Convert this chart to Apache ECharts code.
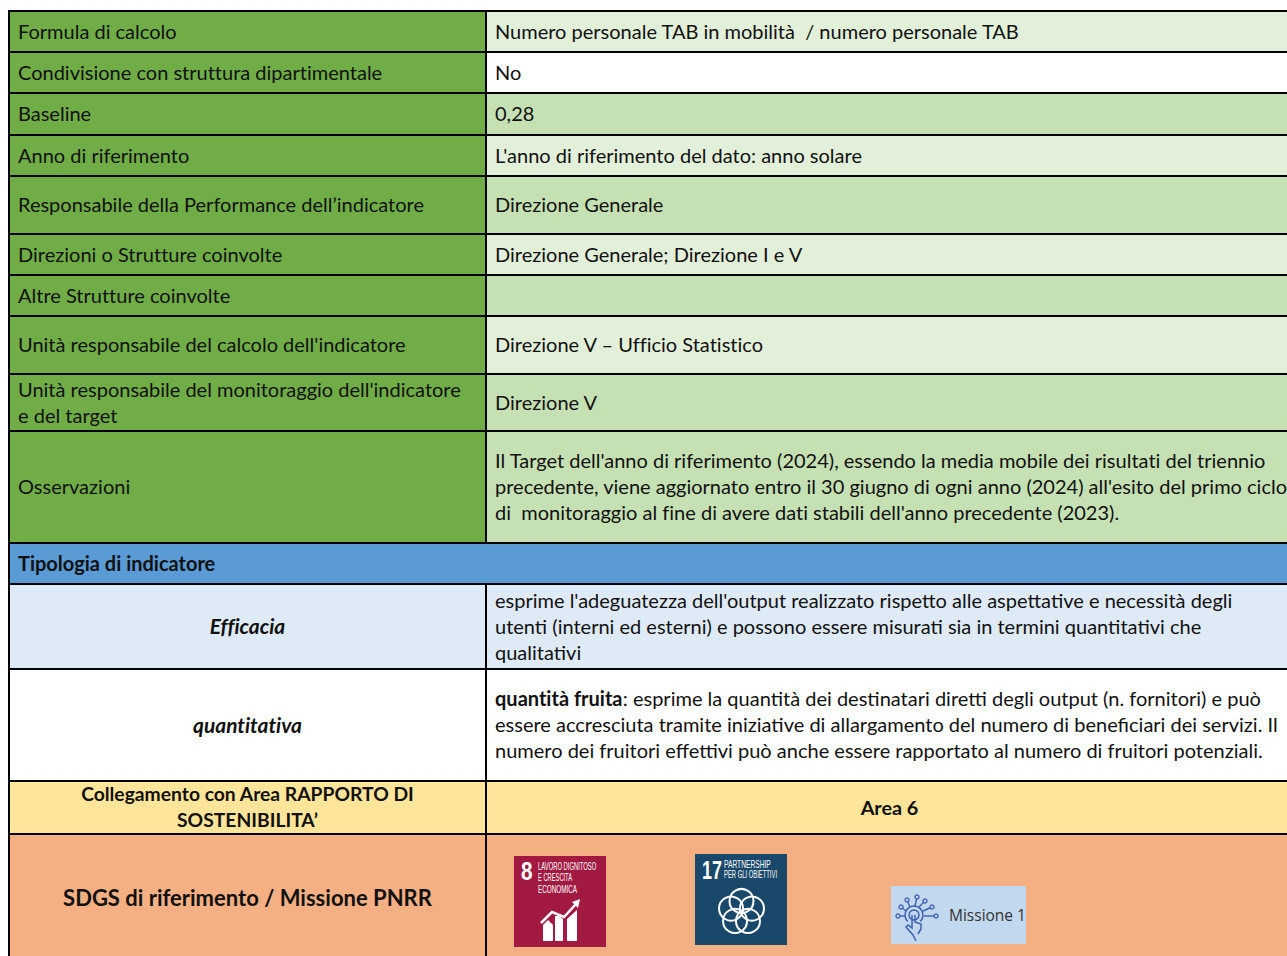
<!DOCTYPE html>
<html>
<head>
<meta charset="utf-8">
<style>
  html, body { margin: 0; padding: 0; background: #fff; }
  #main { width: 1287px; height: 956px; overflow: hidden; }
  /* Lato joins ti/ff by default, the original text doesn't */
  #main text, #main tspan { font-variant-ligatures: none; }
</style>
<script src="https://cdn.jsdelivr.net/npm/echarts@6/dist/echarts.min.js"></script>
</head>
<body>
<div id="main"></div>
<script>
// table content, one entry per row
var leftTexts = [
  'Formula di calcolo',
  'Condivisione con struttura dipartimentale',
  'Baseline',
  'Anno di riferimento',
  'Responsabile della Performance dell\u2019indicatore',
  'Direzioni o Strutture coinvolte',
  'Altre Strutture coinvolte',
  'Unit\u00e0 responsabile del calcolo dell\'indicatore',
  'Unit\u00e0 responsabile del monitoraggio dell\'indicatore\ne del target',
  'Osservazioni',
  'Tipologia di indicatore',
  'Efficacia',
  'quantitativa',
  'Collegamento con Area RAPPORTO DI\nSOSTENIBILITA\u2019',
  'SDGS di riferimento / Missione PNRR'
];
var rightTexts = [
  'Numero personale TAB in mobilit\u00e0\u00a0 / numero personale TAB',
  'No',
  '0,28',
  'L\'anno di riferimento del dato: anno solare',
  'Direzione Generale',
  'Direzione Generale; Direzione I e V',
  '',
  'Direzione V \u2013 Ufficio Statistico',
  'Direzione V',
  'Il Target dell\'anno di riferimento (2024), essendo la media mobile dei risultati del triennio\nprecedente, viene aggiornato entro il 30 giugno di ogni anno (2024) all\'esito del primo ciclo\ndi\u00a0 monitoraggio al fine di avere dati stabili dell\'anno precedente (2023).',
  '',
  'esprime l\'adeguatezza dell\'output realizzato rispetto alle aspettative e necessit\u00e0 degli\nutenti (interni ed esterni) e possono essere misurati sia in termini quantitativi che\nqualitativi',
  '{b|quantit\u00e0 fruita}: esprime la quantit\u00e0 dei destinatari diretti degli output (n. fornitori) e pu\u00f2\nessere accresciuta tramite iniziative di allargamento del numero di beneficiari dei servizi. Il\nnumero dei fruitori effettivi pu\u00f2 anche essere rapportato al numero di fruitori potenziali.',
  'Area 6',
  ''
];
var rowKinds = ['meta', 'meta', 'meta', 'meta', 'meta', 'meta', 'meta', 'meta', 'meta', 'meta', 'head', 'type', 'type', 'link', 'sdg'];

// badge captions
var badgeEight = ['8', 'LAVORO DIGNITOSO', 'E CRESCITA', 'ECONOMICA'];
var badgeSeventeen = ['17', 'PARTNERSHIP', 'PER GLI OBIETTIVI'];
var badgeMission = 'Missione 1';

// layout, kept apart from the content
var rowEdges = [11, 52, 93, 135, 176, 234, 275, 316, 374, 431, 543, 584, 669, 781, 834, 958];
var leftFills = ['#70ad47', '#70ad47', '#70ad47', '#70ad47', '#70ad47', '#70ad47', '#70ad47', '#70ad47', '#70ad47', '#70ad47', '#5b9bd5', '#deeaf6', '#ffffff', '#ffe599', '#f4b083'];
var rightFills = ['#e2efd9', '#ffffff', '#c5e0b3', '#e2efd9', '#c5e0b3', '#e2efd9', '#c5e0b3', '#e2efd9', '#c5e0b3', '#c5e0b3', '#5b9bd5', '#deeaf6', '#ffffff', '#ffe599', '#f4b083'];
var colLeft = 9, colMid = 486, colRight = 1292;
var fontName = 'Lato';
var fontSize = 20;

function cellText(x, y, text, align, extra) {
  var style = {
    text: text,
    x: x,
    y: y,
    fill: '#111',
    align: align,
    verticalAlign: 'middle',
    fontFamily: fontName,
    fontSize: fontSize,
    lineHeight: 26
  };
  for (var k in extra) style[k] = extra[k];
  return { type: 'text', silent: true, style: style };
}

function renderRow(params, api) {
  var i = api.value(0);
  var kind = rowKinds[i];
  var tl = api.coord([colLeft, rowEdges[i]]);
  var br = api.coord([colRight, rowEdges[i + 1]]);
  var mid = api.coord([colMid, rowEdges[i]])[0];
  var cy = (tl[1] + br[1]) / 2 - 1;
  var black = { stroke: '#000', lineWidth: 2 };
  var kids = [];

  kids.push({ type: 'rect', shape: { x: tl[0], y: tl[1], width: mid - tl[0], height: br[1] - tl[1] }, style: { fill: leftFills[i] } });
  kids.push({ type: 'rect', shape: { x: mid, y: tl[1], width: br[0] - mid, height: br[1] - tl[1] }, style: { fill: rightFills[i] } });
  kids.push({ type: 'line', shape: { x1: tl[0] - 1, y1: tl[1], x2: br[0], y2: tl[1] }, style: black });
  kids.push({ type: 'line', shape: { x1: tl[0] - 1, y1: br[1], x2: br[0], y2: br[1] }, style: black });
  kids.push({ type: 'line', shape: { x1: tl[0], y1: tl[1], x2: tl[0], y2: br[1] }, style: black });
  if (kind !== 'head') {
    kids.push({ type: 'line', shape: { x1: mid, y1: tl[1], x2: mid, y2: br[1] }, style: black });
  }

  var leftCentre = (tl[0] + mid) / 2;
  var rightX = mid + 9;
  if (kind === 'meta') {
    kids.push(cellText(tl[0] + 9, cy, leftTexts[i], 'left'));
    kids.push(cellText(rightX, cy, rightTexts[i], 'left'));
  } else if (kind === 'head') {
    kids.push(cellText(tl[0] + 9, cy, leftTexts[i], 'left', { fontWeight: 'bold' }));
  } else if (kind === 'type') {
    kids.push(cellText(leftCentre, cy, leftTexts[i], 'center', { fontWeight: 'bold', fontStyle: 'italic', fontSize: 20.9 }));
    kids.push(cellText(rightX, cy, rightTexts[i], 'left', {
      rich: { b: { fontFamily: fontName, fontSize: fontSize, fontWeight: 'bold', lineHeight: 26, fill: '#111' } }
    }));
  } else if (kind === 'link') {
    kids.push(cellText(leftCentre, cy, leftTexts[i], 'center', { fontWeight: 'bold', fontSize: 19.3 }));
    kids.push(cellText((mid + br[0]) / 2 + 0.5, cy, rightTexts[i], 'center', { fontWeight: 'bold', fontSize: 19.8 }));
  } else {
    kids.push(cellText(leftCentre, 897, leftTexts[i], 'center', { fontWeight: 'bold', fontSize: 22 }));
  }
  return { type: 'group', children: kids };
}

// small caption inside a badge, squeezed to look like the SDG lettering
function badgeText(x, y, text, size, sx, fill, weight) {
  return {
    type: 'text', x: x, y: y, scaleX: sx, silent: true,
    style: {
      text: text, x: 0, y: 0, fill: fill, fontFamily: 'Liberation Sans', fontSize: size,
      fontWeight: weight || 'normal', verticalAlign: 'middle'
    }
  };
}

function eightBadge(x, y) {
  var white = '#fff';
  return {
    type: 'group', x: x, y: y, children: [
      { type: 'rect', shape: { x: 0, y: 0, width: 92, height: 91 }, style: { fill: '#a21942' } },
      badgeText(7, 15, badgeEight[0], 26, 0.8, white, 'bold'),
      badgeText(24, 10, badgeEight[1], 11.5, 0.51, white),
      badgeText(24, 21, badgeEight[2], 11.5, 0.5, white),
      badgeText(24, 33, badgeEight[3], 11.5, 0.55, white),
      { type: 'polygon', shape: { points: [[29, 69], [34, 64], [39, 69], [39, 85], [29, 85]] }, style: { fill: white } },
      { type: 'polygon', shape: { points: [[41, 60], [45, 60], [49, 63], [49, 85], [41, 85]] }, style: { fill: white } },
      { type: 'polygon', shape: { points: [[53, 63], [63, 54], [63, 85], [53, 85]] }, style: { fill: white } },
      { type: 'polyline', shape: { points: [[27, 67], [38, 56], [50, 61], [62, 48]] }, style: { stroke: white, lineWidth: 2.5, fill: 'none' } },
      { type: 'polygon', shape: { points: [[66, 43], [64, 52], [58, 46]] }, style: { fill: white } }
    ]
  };
}

function seventeenBadge(x, y) {
  var white = '#fff';
  var kids = [
    { type: 'rect', shape: { x: 0, y: 0, width: 92, height: 91 }, style: { fill: '#19486a' } },
    badgeText(7, 16, badgeSeventeen[0], 25, 0.72, white, 'bold'),
    badgeText(29, 10, badgeSeventeen[1], 11.5, 0.58, white),
    badgeText(29, 20, badgeSeventeen[2], 11.5, 0.51, white)
  ];
  for (var n = 0; n < 5; n++) {
    var a = -Math.PI / 2 + n * 2 * Math.PI / 5;
    kids.push({
      type: 'circle',
      shape: { cx: 46.5 + 11 * Math.cos(a), cy: 58 + 11 * Math.sin(a), r: 12 },
      style: { stroke: white, lineWidth: 2, fill: 'none' }
    });
  }
  return { type: 'group', x: x, y: y, children: kids };
}

function missionBadge(x, y) {
  var blue = '#3f5fb0';
  var kids = [
    { type: 'rect', shape: { x: 0, y: 0, width: 135, height: 58 }, style: { fill: '#c2d8ef' } },
    { type: 'text', silent: true, style: { text: badgeMission, x: 58, y: 29, fill: '#333', fontFamily: 'Open Sans', fontSize: 15.5, verticalAlign: 'middle' } },
    { type: 'circle', shape: { cx: 23, cy: 29, r: 5 }, style: { stroke: blue, lineWidth: 1.5, fill: 'none' } },
    { type: 'arc', shape: { cx: 23, cy: 29, r: 9, startAngle: Math.PI * 0.75, endAngle: Math.PI * 0.25 }, style: { stroke: blue, lineWidth: 1.5, fill: 'none' } },
    { type: 'polyline', shape: { points: [[21, 29], [21, 42], [17, 39], [15, 41], [22, 49], [25, 55]] }, style: { stroke: blue, lineWidth: 1.5, fill: 'none' } },
    { type: 'polyline', shape: { points: [[24, 29], [24, 36], [30, 38], [30, 43], [27, 48]] }, style: { stroke: blue, lineWidth: 1.5, fill: 'none' } }
  ];
  var ends = [[26, 11], [16, 14], [34, 15], [10, 21], [41, 21], [7, 30], [45, 30]];
  var starts = [[24, 20], [19, 21], [28, 21], [15, 25], [32, 25], [14, 30], [33, 30]];
  for (var n = 0; n < ends.length; n++) {
    kids.push({ type: 'line', shape: { x1: starts[n][0], y1: starts[n][1], x2: ends[n][0], y2: ends[n][1] }, style: { stroke: blue, lineWidth: 1.4 } });
    kids.push({ type: 'circle', shape: { cx: ends[n][0], cy: ends[n][1], r: 2 }, style: { stroke: blue, lineWidth: 1.4, fill: '#c2d8ef' } });
  }
  return { type: 'group', x: x, y: y, children: kids };
}

var badgeMakers = [eightBadge, seventeenBadge, missionBadge];
var badgeSpots = [[514, 856], [695, 854], [891, 886]];

var rowIndex = rowKinds.map(function (k, i) { return [i]; });
var badgeIndex = badgeSpots.map(function (s, i) { return [i]; });

var myChart = echarts.init(document.getElementById('main'), null, { renderer: 'svg' });
myChart.setOption({
  animation: false,
  tooltip: { show: false },
  grid: { left: 0, right: 0, top: 0, bottom: 0 },
  xAxis: { type: 'value', min: 0, max: 1287, show: false },
  yAxis: { type: 'value', min: 0, max: 956, inverse: true, show: false },
  series: [
    { type: 'custom', silent: true, clip: true, data: rowIndex, renderItem: renderRow },
    {
      type: 'custom', silent: true, clip: true, data: badgeIndex,
      renderItem: function (params, api) {
        var i = api.value(0);
        var p = api.coord(badgeSpots[i]);
        return badgeMakers[i](p[0], p[1]);
      }
    }
  ]
});
</script>
</body>
</html>
